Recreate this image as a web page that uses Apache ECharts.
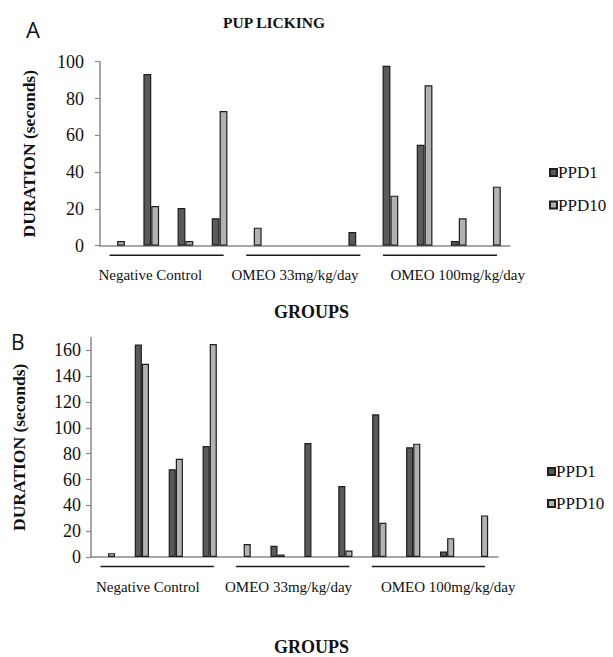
<!DOCTYPE html>
<html>
<head>
<meta charset="utf-8">
<script src="https://cdn.jsdelivr.net/npm/echarts@6/dist/echarts.min.js"></script>
<style>
html,body{margin:0;padding:0;background:#fff;}
#chart{width:613px;height:657px;}
</style>
</head>
<body>
<div id="chart"></div>
<script>
// ---- data ----
const categories = ['NC-1','NC-2','NC-3','NC-4','O33-1','O33-2','O33-3','O33-4','O100-1','O100-2','O100-3','O100-4'];
const groups = ['Negative Control','OMEO 33mg/kg/day','OMEO 100mg/kg/day'];
const groupSpans = [[0,3],[4,7],[8,11]];
const seriesNames = ['PPD1','PPD10'];
// Panel A: PUP LICKING
const ppd1A  = [0, 93.3, 20.5, 14.9, 0, 0, 0, 7.4, 97.8, 54.9, 2.5, 0];
const ppd10A = [2.5, 21.6, 2.5, 73.2, 9.8, 0, 0, 0, 27.2, 87.2, 14.9, 32.1];
// Panel B
const ppd1B  = [0, 164.5, 68, 86, 0, 8.7, 88.3, 55, 110.5, 85, 4.2, 0];
const ppd10B = [3, 149.7, 76, 165, 10, 2, 0, 5, 26.5, 87.8, 14.6, 32.2];
const yTicksA = [0, 20, 40, 60, 80, 100];
const yTicksB = [0, 20, 40, 60, 80, 100, 120, 140, 160];

// ---- styles ----
const SERIF = 'Liberation Serif';
const AXIS_GRAY = '#8a8a8a';
const colors = ['#5a5a5a', '#b2b2b2'];

const chart = echarts.init(document.getElementById('chart'), null, {renderer: 'svg'});

function barItems(arr) {
  return arr.map(v => v === 0 ? {value: v, itemStyle: {borderWidth: 0}} : v);
}
function barSeries(name, data, idx, axisIdx, width) {
  return {
    name: name, type: 'bar', xAxisIndex: axisIdx, yAxisIndex: axisIdx === 0 ? 0 : 1,
    data: barItems(data), barWidth: width, barGap: '0%',
    itemStyle: {color: colors[idx], borderColor: '#1e1e1e', borderWidth: 1.2},
    emphasis: {disabled: true}, animation: false
  };
}
function underline(axisIdx, yIdx) {
  return {
    type: 'custom', xAxisIndex: axisIdx, yAxisIndex: yIdx, silent: true, animation: false,
    data: groupSpans.map(s => [s[0], s[1], 0]),
    encode: {x: [0, 1], y: 2},
    renderItem: function (params, api) {
      const p0 = api.coord([api.value(0), 0]);
      const p1 = api.coord([api.value(1), 0]);
      const bw = api.size([1, 0])[0];
      return {
        type: 'line',
        shape: {x1: p0[0] - 0.22 * bw, y1: p0[1] + 9.5, x2: p1[0] + 0.12 * bw, y2: p1[1] + 9.5},
        style: {stroke: '#1a1a1a', lineWidth: 1.5}
      };
    }
  };
}
function groupAxis(gridIndex, shifts, nameGap, namePad) {
  const rich = {};
  shifts.forEach((s, i) => {
    rich['g' + i] = {fontFamily: SERIF, fontSize: 15, color: '#111',
      padding: s < 0 ? [0, -2 * s, 0, 0] : [0, 0, 0, 2 * s]};
  });
  return {
    type: 'category', gridIndex: gridIndex, data: groups, position: 'bottom',
    axisLine: {show: false}, axisTick: {show: false}, splitLine: {show: false},
    axisLabel: {margin: 22, interval: 0, fontFamily: SERIF, fontSize: 15,
      formatter: function (v, i) { return '{g' + i + '|' + v + '}'; }, rich: rich},
    name: 'GROUPS', nameLocation: 'middle', nameGap: nameGap,
    nameTextStyle: {fontFamily: SERIF, fontSize: 18, fontWeight: 'bold', color: '#111', padding: namePad}
  };
}
function catAxis(gridIndex) {
  return {
    type: 'category', gridIndex: gridIndex, data: categories,
    axisLine: {lineStyle: {color: AXIS_GRAY, width: 1.5}},
    axisTick: {show: false}, axisLabel: {show: false}, splitLine: {show: false}
  };
}
function valAxis(gridIndex, max, ticks, nameGap, margin, font, nameShift) {
  return {
    type: 'value', gridIndex: gridIndex, min: 0, max: max, interval: 20,
    axisLine: {show: true, lineStyle: {color: AXIS_GRAY, width: 1.5}},
    axisTick: {show: true, length: 5, lineStyle: {color: AXIS_GRAY, width: 1.2}, customValues: ticks},
    axisLabel: {margin: margin, fontFamily: font, fontSize: 18, color: '#111', customValues: ticks},
    splitLine: {show: false},
    name: 'DURATION (seconds)', nameLocation: 'middle', nameGap: nameGap, nameRotate: 90,
    nameTextStyle: {fontFamily: SERIF, fontSize: 17.5, fontWeight: 'bold', color: '#111',
      padding: nameShift}
  };
}
function legend(left, top, gap) {
  return {
    data: seriesNames, orient: 'vertical', left: left, top: top, padding: 0,
    itemGap: gap, itemWidth: 7, itemHeight: 7, icon: 'rect', selectedMode: false,
    textStyle: {fontFamily: SERIF, fontSize: 17, color: '#111', lineHeight: 16, padding: [0, 0, 0, -4]}
  };
}

const option = {
  animation: false,
  backgroundColor: '#ffffff',
  textStyle: {fontFamily: SERIF},
  title: [
    {text: 'PUP LICKING', left: 218, top: 9,
      textStyle: {fontFamily: SERIF, fontSize: 15.5, fontWeight: 'bold', color: '#111'}},
    {text: 'A', left: 21, top: 13,
      textStyle: {fontFamily: 'Open Sans', fontSize: 22, fontWeight: 'normal', color: '#111'}},
    {text: 'B', left: 6, top: 326,
      textStyle: {fontFamily: 'Open Sans', fontSize: 21, fontWeight: 'normal', color: '#111'}}
  ],
  legend: [legend(549, 164, 15.6), legend(547, 463, 15)],
  grid: [
    {left: 100, right: 103, top: 61.7, bottom: 411.3},
    {left: 91, right: 115, top: 337.5, bottom: 90.3}
  ],
  xAxis: [
    catAxis(0),
    groupAxis(0, [-18, -10, 16], 57, [0, 0, 0, 13]),
    catAxis(1),
    groupAxis(1, [-11, -6, 18], 81, [0, 0, 0, 34])
  ],
  yAxis: [
    valAxis(0, 100, yTicksA, 62, 16, SERIF, [0, 0, 0, 0]),
    valAxis(1, 170, yTicksB, 63, 10, SERIF, [0, 0, 0, 0])
  ],
  series: [
    barSeries('PPD1', ppd1A, 0, 0, '23%'),
    barSeries('PPD10', ppd10A, 1, 0, '23%'),
    barSeries('PPD1', ppd1B, 0, 2, '21%'),
    barSeries('PPD10', ppd10B, 1, 2, '21%'),
    underline(0, 0),
    underline(2, 1)
  ]
};
chart.setOption(option);
</script>
</body>
</html>
